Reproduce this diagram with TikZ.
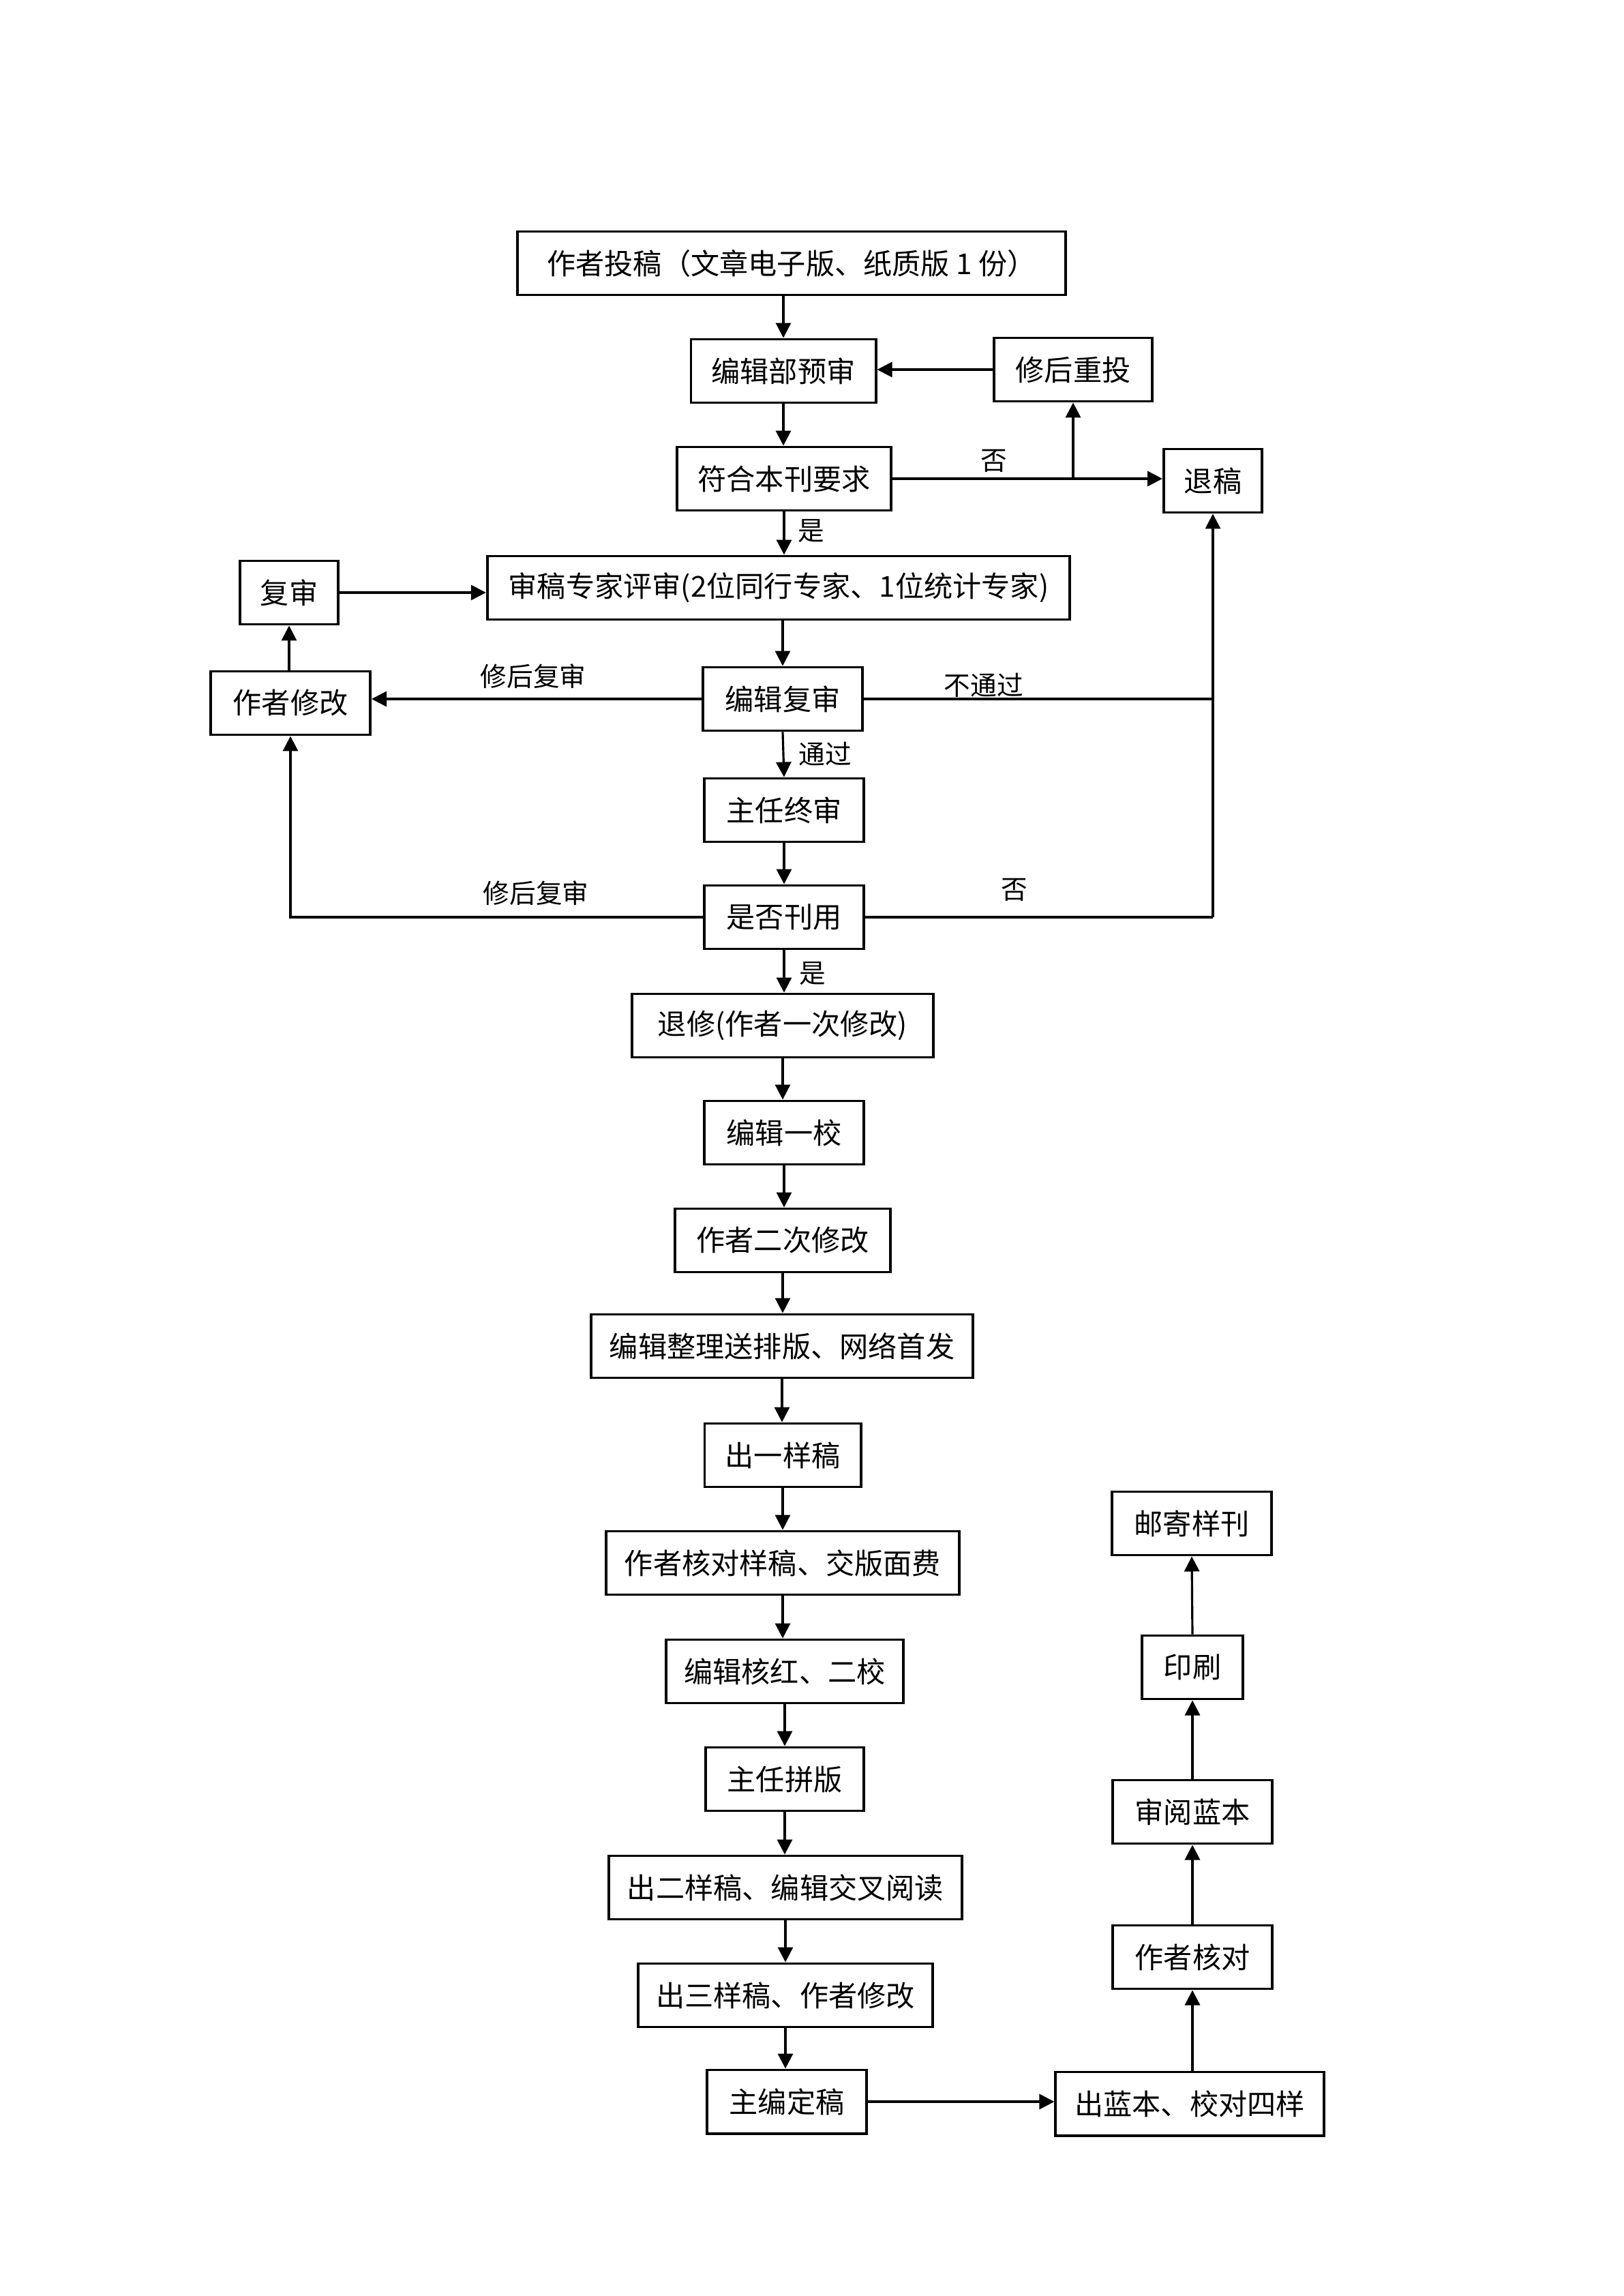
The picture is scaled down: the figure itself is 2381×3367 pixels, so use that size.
\documentclass[tikz,border=0pt]{standalone}
\usepackage{fontspec}
\setmainfont{Noto Sans CJK SC}
\usetikzlibrary{arrows.meta}

\begin{document}
\begin{tikzpicture}[
    x=0.01cm, y=-0.01cm,
    flow/.style={
        draw=black,
        line width=1.1pt,
        minimum width=#1,
        minimum height=0.93cm,
        inner sep=0pt,
        font=\fontsize{12}{14}\selectfont
    },
    arr/.style={-{Triangle[length=2.2mm,width=2.2mm]}, line width=0.9pt},
    lnk/.style={line width=1.2pt},
    tag/.style={font=\fontsize{11}{13}\selectfont}
]
    \useasboundingbox (0,0) rectangle (2381,3367);

    % Submission and pre-screening
    \node[flow=8.03cm] (submit) at (1161, 386) {作者投稿（文章电子版、纸质版 1 份）};
    \node[flow=2.71cm] (prescreen) at (1149, 544) {编辑部预审};
    \node[flow=2.32cm] (resubmit) at (1574, 542) {修后重投};
    \node[flow=3.14cm] (meets) at (1150, 702) {符合本刊要求};
    \node[flow=1.44cm] (reject) at (1779, 705) {退稿};

    % Peer review
    \node[flow=1.44cm] (recheck) at (424, 869) {复审};
    \node[flow=8.54cm] (expert) at (1142, 862) {审稿专家评审(2位同行专家、1位统计专家)};
    \node[flow=2.34cm] (authrev) at (426, 1031) {作者修改};
    \node[flow=2.34cm] (edrev) at (1148, 1025) {编辑复审};
    \node[flow=2.34cm] (chief) at (1150, 1188) {主任终审};
    \node[flow=2.34cm] (accept) at (1150, 1345) {是否刊用};

    % Editing chain
    \node[flow=4.41cm] (return) at (1148, 1504) {退修(作者一次修改)};
    \node[flow=2.34cm] (proof1) at (1150, 1661) {编辑一校};
    \node[flow=3.15cm] (authrev2) at (1148, 1819) {作者二次修改};
    \node[flow=5.59cm] (typeset) at (1147, 1974) {编辑整理送排版、网络首发};
    \node[flow=2.29cm] (sample1) at (1148, 2134) {出一样稿};
    \node[flow=5.17cm] (authcheck) at (1148, 2292) {作者核对样稿、交版面费};
    \node[flow=3.48cm] (proof2) at (1151, 2451) {编辑核红、二校};
    \node[flow=2.32cm] (layout) at (1151, 2609) {主任拼版};
    \node[flow=5.18cm] (sample2) at (1152, 2768) {出二样稿、编辑交叉阅读};
    \node[flow=4.32cm] (sample3) at (1152, 2926) {出三样稿、作者修改};
    \node[flow=2.34cm] (final) at (1154, 3082) {主编定稿};

    % Printing
    \node[flow=3.93cm] (blue) at (1745, 3085) {出蓝本、校对四样};
    \node[flow=2.34cm] (bluecheck) at (1749, 2870) {作者核对};
    \node[flow=2.34cm] (bluereview) at (1749, 2657) {审阅蓝本};
    \node[flow=1.48cm] (print) at (1749, 2445) {印刷};
    \node[flow=2.34cm] (mail) at (1748, 2234) {邮寄样刊};

    % Connectors, top part
    \draw[arr] (submit.south -| prescreen.north) -- (prescreen.north);
    \draw[arr] (resubmit.west) -- (resubmit.west -| prescreen.east);
    \draw[arr] (prescreen.south) -- (meets.north -| prescreen.south);
    \draw[arr] (meets.east) -- (meets.east -| reject.west);
    \draw[arr] (meets.east -| resubmit.south) -- (resubmit.south);
    \node[tag] at (1458, 676) {否};
    \draw[arr] (meets.south) -- (expert.north -| meets.south);
    \node[tag] at (1190, 779) {是};

    % Connectors, review loop
    \draw[arr] (recheck.east) -- (recheck.east -| expert.west);
    \draw[arr] (authrev.north -| recheck.south) -- (recheck.south);
    \draw[arr] (expert.south -| edrev.north) -- (edrev.north);
    \draw[arr] (edrev.west) -- (edrev.west -| authrev.east);
    \node[tag] at (782, 992) {修后复审};
    \draw[lnk] (edrev.east) -- (edrev.east -| reject.south);
    \node[tag] at (1443, 1005) {不通过};
    \draw[arr] (accept.east -| reject.south) -- (reject.south);
    \draw[arr] (edrev.south) -- (chief.north);
    \node[tag] at (1210, 1106) {通过};
    \draw[arr] (chief.south) -- (accept.north);
    \draw[arr] (accept.west) -| (authrev.south);
    \node[tag] at (786, 1310) {修后复审};
    \draw[lnk] (accept.east) -- (accept.east -| reject.south);
    \node[tag] at (1488, 1305) {否};
    \draw[arr] (accept.south) -- (return.north -| accept.south);
    \node[tag] at (1192, 1428) {是};

    % Connectors, editing chain
    \draw[arr] (return.south) -- (proof1.north -| return.south);
    \draw[arr] (proof1.south) -- (authrev2.north -| proof1.south);
    \draw[arr] (authrev2.south) -- (typeset.north -| authrev2.south);
    \draw[arr] (typeset.south) -- (sample1.north -| typeset.south);
    \draw[arr] (sample1.south) -- (authcheck.north -| sample1.south);
    \draw[arr] (authcheck.south) -- (proof2.north -| authcheck.south);
    \draw[arr] (proof2.south) -- (layout.north -| proof2.south);
    \draw[arr] (layout.south) -- (sample2.north -| layout.south);
    \draw[arr] (sample2.south) -- (sample3.north -| sample2.south);
    \draw[arr] (sample3.south) -- (final.north -| sample3.south);
    \draw[arr] (final.east) -- (final.east -| blue.west);

    % Connectors, printing
    \draw[arr] (blue.north -| bluecheck.south) -- (bluecheck.south);
    \draw[arr] (bluecheck.north) -- (bluereview.south);
    \draw[arr] (bluereview.north) -- (print.south);
    \draw[arr] (print.north) -- (mail.south);
\end{tikzpicture}
\end{document}
